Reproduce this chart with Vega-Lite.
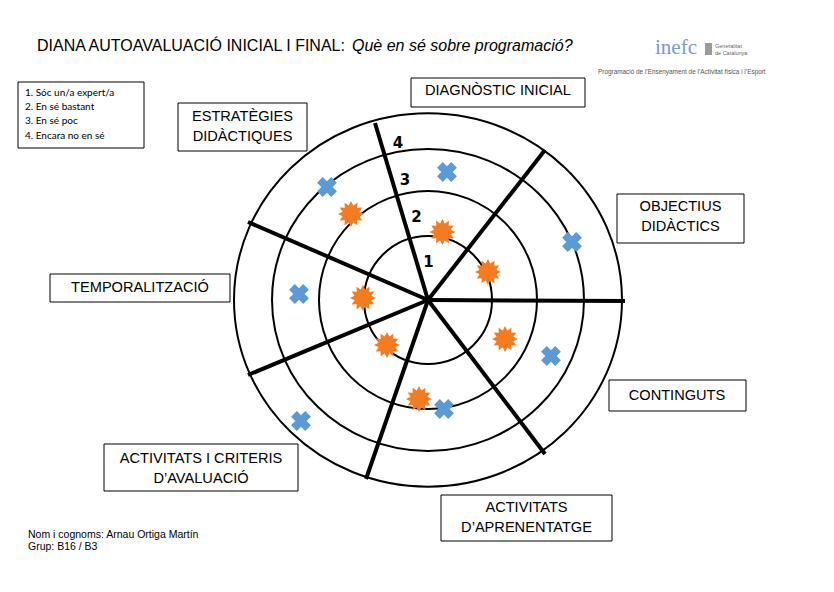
{
  "$schema": "https://vega.github.io/schema/vega-lite/v6.json",
  "width": 834,
  "height": 592,
  "autosize": "none",
  "padding": 0,
  "background": "white",
  "config": {"view": {"stroke": null}},
  "datasets": {
    "anells": [
      {"anell": 1, "x": 0, "y": 0, "r": 64},
      {"anell": 2, "x": 0, "y": 0, "r": 109},
      {"anell": 3, "x": 0, "y": 0, "r": 156},
      {"anell": 4, "x": 0, "y": 0, "r": 194}
    ],
    "radis": [
      {"x": 0, "y": 0, "x2": -53, "y2": 177},
      {"x": 0, "y": 0, "x2": 117, "y2": 150},
      {"x": 0, "y": 0, "x2": 197, "y2": -1},
      {"x": 0, "y": 0, "x2": 117, "y2": -154},
      {"x": 0, "y": 0, "x2": -62, "y2": -179},
      {"x": 0, "y": 0, "x2": -180, "y2": -75},
      {"x": 0, "y": 0, "x2": -180, "y2": 78}
    ],
    "nivells": [
      {"t": "1", "x": 0.5, "y": 38},
      {"t": "2", "x": -11.5, "y": 83},
      {"t": "3", "x": -23, "y": 120},
      {"t": "4", "x": -30, "y": 157}
    ],
    "caixes": [
      {"x": -17, "x2": 157, "y": 222, "y2": 193},
      {"x": -250, "x2": -121, "y": 197, "y2": 149},
      {"x": 189, "x2": 316, "y": 106, "y2": 57},
      {"x": -378, "x2": -198, "y": 26, "y2": -2},
      {"x": 181, "x2": 318, "y": -80, "y2": -111},
      {"x": -324, "x2": -130, "y": -144, "y2": -191},
      {"x": 13, "x2": 184, "y": -195, "y2": -241},
      {"x": -410, "x2": -284, "y": 218, "y2": 152}
    ],
    "rotuls": [
      {"t": "DIAGNÒSTIC INICIAL", "x": 70, "y": 209},
      {"t": "ESTRATÈGIES", "x": -185.5, "y": 183},
      {"t": "DIDÀCTIQUES", "x": -185.5, "y": 163},
      {"t": "OBJECTIUS", "x": 252.5, "y": 93},
      {"t": "DIDÀCTICS", "x": 252.5, "y": 73},
      {"t": "TEMPORALITZACIÓ", "x": -288, "y": 12},
      {"t": "CONTINGUTS", "x": 249, "y": -96},
      {"t": "ACTIVITATS I CRITERIS", "x": -227, "y": -159},
      {"t": "D’AVALUACIÓ", "x": -227, "y": -179},
      {"t": "ACTIVITATS", "x": 98.5, "y": -208},
      {"t": "D’APRENENTATGE", "x": 98.5, "y": -228}
    ],
    "llegenda": [
      {"t": "1. Sóc un/a expert/a", "x": -403, "y": 207},
      {"t": "2. En sé bastant", "x": -403, "y": 193},
      {"t": "3. En sé poc", "x": -403, "y": 179},
      {"t": "4. Encara no en sé", "x": -403, "y": 164}
    ],
    "puntuacions": [
      {"dimensio": "Diagnòstic inicial", "moment": "Inicial", "x": 14.5, "y": 68},
      {"dimensio": "Diagnòstic inicial", "moment": "Final", "x": 19, "y": 128},
      {"dimensio": "Objectius didàctics", "moment": "Inicial", "x": 60, "y": 28},
      {"dimensio": "Objectius didàctics", "moment": "Final", "x": 144, "y": 58},
      {"dimensio": "Continguts", "moment": "Inicial", "x": 77, "y": -39},
      {"dimensio": "Continguts", "moment": "Final", "x": 123, "y": -56},
      {"dimensio": "Activitats d'aprenentatge", "moment": "Inicial", "x": -9, "y": -99},
      {"dimensio": "Activitats d'aprenentatge", "moment": "Final", "x": 16, "y": -109},
      {"dimensio": "Activitats i criteris d'avaluació", "moment": "Inicial", "x": -41, "y": -45},
      {"dimensio": "Activitats i criteris d'avaluació", "moment": "Final", "x": -127, "y": -121},
      {"dimensio": "Temporalització", "moment": "Inicial", "x": -65, "y": 2},
      {"dimensio": "Temporalització", "moment": "Final", "x": -129, "y": 6},
      {"dimensio": "Estratègies didàctiques", "moment": "Inicial", "x": -77, "y": 86},
      {"dimensio": "Estratègies didàctiques", "moment": "Final", "x": -101, "y": 113}
    ],
    "titol": [{"t": "DIANA AUTOAVALUACIÓ INICIAL I FINAL: ", "x": -391, "y": 249}],
    "subtitol": [{"t": "Què en sé sobre programació?", "x": -76, "y": 249}],
    "peu": [
      {"t": "Nom i cognoms: Arnau Ortiga Martín", "x": -400, "y": -235},
      {"t": "Grup: B16 / B3", "x": -400, "y": -247}
    ],
    "logo": [{"t": "inefc", "x": 227, "y": 246}],
    "logogen": [
      {"t": "Generalitat", "x": 287, "y": 254},
      {"t": "de Catalunya", "x": 287, "y": 247}
    ],
    "icona": [{"x": 277, "x2": 284, "y": 257, "y2": 245}],
    "logosub": [{"t": "Programació de l’Ensenyament de l’Activitat física i l’Esport", "x": 170, "y": 228}]
  },
  "encoding": {
    "x": {"field": "x", "type": "quantitative", "scale": {"domain": [-428, 406], "nice": false, "zero": false}, "axis": null},
    "y": {"field": "y", "type": "quantitative", "scale": {"domain": [-292, 300], "nice": false, "zero": false}, "axis": null}
  },
  "layer": [
    {
      "data": {"name": "anells"},
      "mark": {"type": "point", "filled": false, "stroke": "black", "strokeWidth": 2, "opacity": 1},
      "encoding": {
        "size": {"field": "r", "type": "quantitative", "scale": {"type": "pow", "exponent": 2, "domain": [0, 200], "range": [0, 160000]}, "legend": null},
        "shape": {"field": "anell", "type": "nominal", "scale": {"domain": [1, 2, 3, 4], "range": ["circle", "circle", "M-1,0A1,0.968,0,1,1,1,0A1,0.968,0,1,1,-1,0Z", "M-1,0A1,0.962,0,1,1,1,0A1,0.962,0,1,1,-1,0Z"]}, "legend": null}
      }
    },
    {
      "data": {"name": "radis"},
      "mark": {"type": "rule", "strokeWidth": 4, "color": "black", "strokeCap": "butt"},
      "encoding": {"x2": {"field": "x2"}, "y2": {"field": "y2"}}
    },
    {
      "data": {"name": "caixes"},
      "mark": {"type": "rect", "fill": "transparent", "stroke": "black", "strokeWidth": 1},
      "encoding": {"x2": {"field": "x2"}, "y2": {"field": "y2"}}
    },
    {
      "data": {"name": "nivells"},
      "mark": {"type": "text", "font": "DejaVu Sans", "fontWeight": "bold", "fontSize": 15, "color": "black", "align": "center", "baseline": "middle"},
      "encoding": {"text": {"field": "t"}}
    },
    {
      "data": {"name": "rotuls"},
      "mark": {"type": "text", "font": "Liberation Sans", "fontSize": 14.6, "color": "black", "align": "center", "baseline": "middle"},
      "encoding": {"text": {"field": "t"}}
    },
    {
      "data": {"name": "llegenda"},
      "mark": {"type": "text", "font": "Lato", "fontSize": 10, "color": "black", "align": "left", "baseline": "middle"},
      "encoding": {"text": {"field": "t"}}
    },
    {
      "data": {"name": "puntuacions"},
      "transform": [{"filter": "datum.moment === 'Inicial'"}],
      "mark": {"type": "point", "filled": true, "opacity": 1, "size": 680, "color": "#F47C20", "shape": "M1,0L0.647,0.173L0.866,0.5L0.474,0.474L0.5,0.866L0.173,0.647L0,1L-0.173,0.647L-0.5,0.866L-0.474,0.474L-0.866,0.5L-0.647,0.173L-1,0L-0.647,-0.173L-0.866,-0.5L-0.474,-0.474L-0.5,-0.866L-0.173,-0.647L0,-1L0.173,-0.647L0.5,-0.866L0.474,-0.474L0.866,-0.5L0.647,-0.173Z"}
    },
    {
      "data": {"name": "puntuacions"},
      "transform": [{"filter": "datum.moment === 'Final'"}],
      "mark": {"type": "point", "filled": true, "opacity": 1, "size": 400, "color": "#5B9BD5", "shape": "cross", "angle": 45}
    },
    {
      "data": {"name": "titol"},
      "mark": {"type": "text", "font": "Liberation Sans", "fontSize": 16, "color": "black", "align": "left", "baseline": "alphabetic"},
      "encoding": {"text": {"field": "t"}}
    },
    {
      "data": {"name": "subtitol"},
      "mark": {"type": "text", "font": "Liberation Sans", "fontSize": 16, "fontStyle": "italic", "color": "black", "align": "left", "baseline": "alphabetic"},
      "encoding": {"text": {"field": "t"}}
    },
    {
      "data": {"name": "peu"},
      "mark": {"type": "text", "font": "Liberation Sans", "fontSize": 10.5, "color": "black", "align": "left", "baseline": "middle"},
      "encoding": {"text": {"field": "t"}}
    },
    {
      "data": {"name": "logo"},
      "mark": {"type": "text", "font": "Liberation Serif", "fontSize": 21, "color": "#7C9AD8", "align": "left", "baseline": "alphabetic"},
      "encoding": {"text": {"field": "t"}}
    },
    {
      "data": {"name": "icona"},
      "mark": {"type": "rect", "fill": "#9A9A9A"},
      "encoding": {"x2": {"field": "x2"}, "y2": {"field": "y2"}}
    },
    {
      "data": {"name": "logogen"},
      "mark": {"type": "text", "font": "Liberation Sans", "fontSize": 5.5, "color": "#666666", "align": "left", "baseline": "middle"},
      "encoding": {"text": {"field": "t"}}
    },
    {
      "data": {"name": "logosub"},
      "mark": {"type": "text", "font": "Liberation Sans", "fontSize": 6.4, "color": "#555555", "align": "left", "baseline": "middle"},
      "encoding": {"text": {"field": "t"}}
    }
  ]
}
